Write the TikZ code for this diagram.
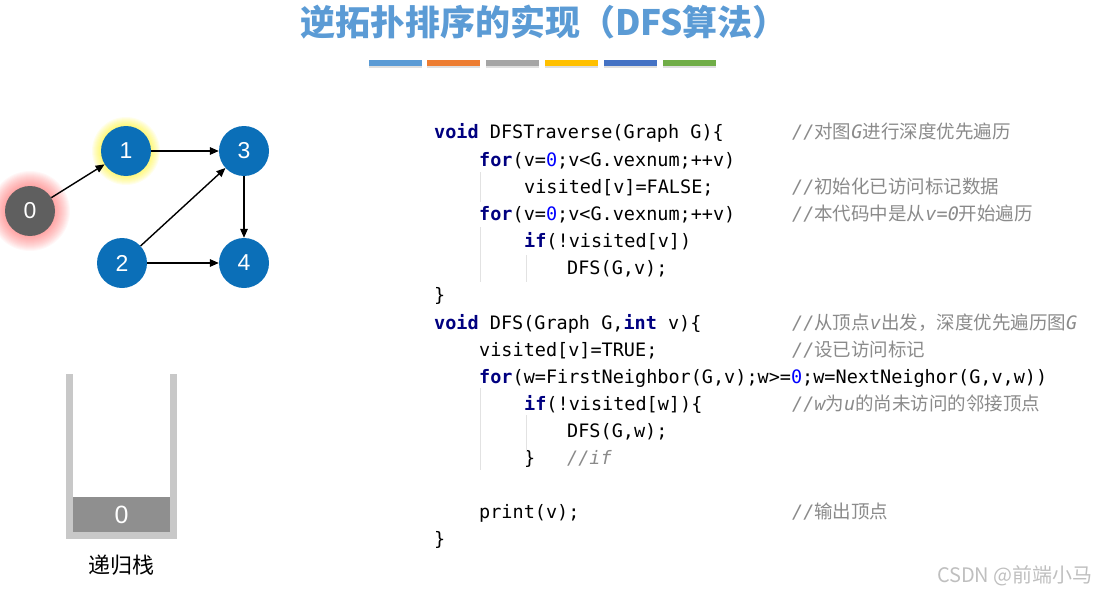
\documentclass[tikz,border=0pt]{standalone}
\usepackage{fontspec}
\setmainfont{Liberation Sans}
\newfontfamily\cjk{Noto Sans CJK SC}
\newfontfamily\codefont{DejaVu Sans Mono}
\usetikzlibrary{arrows.meta, positioning, backgrounds, shadows}
\usepackage{xcolor}
\definecolor{tblue}{HTML}{5B9BD5}
\definecolor{torange}{HTML}{ED7D31}
\definecolor{tgray}{HTML}{A5A5A5}
\definecolor{tyellow}{HTML}{FFC000}
\definecolor{tdblue}{HTML}{4472C4}
\definecolor{tgreen}{HTML}{70AD47}
\definecolor{nblue}{HTML}{0B6FB8}
\definecolor{ngray}{HTML}{5F5F5F}
\definecolor{kwc}{HTML}{000080}
\definecolor{numc}{HTML}{0000FF}
\definecolor{cgray}{HTML}{8A8A8A}
\definecolor{guidec}{HTML}{E2E2E2}
\definecolor{wallc}{HTML}{C8C8C8}
\definecolor{blockc}{HTML}{8F8F8F}
\newcommand\kw[1]{\textcolor{kwc}{\bfseries #1}}
\newcommand\nz{\textcolor{numc}{0}}
\newcommand\ci[1]{{\codefont\itshape #1}}

\begin{document}
\begin{tikzpicture}[x=1pt, y=-1pt,
  vtx/.style={circle, fill=nblue, minimum size=50pt, inner sep=0pt, text=white,
              font=\fontsize{23}{23}\selectfont},
  arc/.style={-{Triangle[length=9pt,width=7.5pt]}, line width=1.4pt},
  code/.style={anchor=base west, inner sep=0pt, font=\codefont\fontsize{18.5}{22}\selectfont},
  cmt/.style={anchor=base west, inner sep=0pt, text=cgray, font=\cjk\fontsize{18.5}{22}\selectfont},
  guide/.style={draw=guidec, line width=0.8pt},
  bar/.style={minimum width=53pt, minimum height=6pt, inner sep=0pt,
              drop shadow={opacity=0.25, shadow xshift=0pt, shadow yshift=-2pt}},
  wall/.style={fill=wallc},
]
\useasboundingbox (0,0) rectangle (1099,591);

% title and colour bar
\node[text=tblue, font=\cjk\bfseries\fontsize{35}{35}\selectfont] (title) at (544,22) {逆拓扑排序的实现（DFS算法）};
\foreach \c [count=\i] in {tblue,torange,tgray,tyellow,tdblue,tgreen}
  \node[bar, fill=\c] (bar\i) at ({395+(\i-1)*58.8}, 63) {};

% graph
\node[vtx, fill=ngray] (v0) at (30,211) {0};
\node[vtx] (v1) at (126,151) {1};
\node[vtx] (v3) at (244,151) {3};
\node[vtx] (v2) at (122,263) {2};
\node[vtx] (v4) at (244,263) {4};
\begin{scope}[on background layer]
  \foreach \r in {25,26,...,40} \fill[red!70, opacity=0.045] (v0) circle (\r pt);
  \foreach \r in {25,26,...,34} \fill[yellow, opacity=0.07] (v1) circle (\r pt);
\end{scope}
\draw[arc] (v0) -- (v1);
\draw[arc] (v1) -- (v3);
\draw[arc] (v2) -- (v3);
\draw[arc] (v3) -- (v4);
\draw[arc] (v2) -- (v4);

% recursion stack
\fill[wall] (66,374) rectangle (73,539);
\fill[wall] (170,374) rectangle (177,539);
\fill[wall] (66,532) rectangle (177,539);
\node[fill=blockc, minimum width=97pt, minimum height=35pt, inner sep=0pt, text=white,
      font=\fontsize{25}{25}\selectfont] (s0) at (121.5,514.5) {0};
\node[font=\cjk\fontsize{22}{22}\selectfont] (stk) at (121,565) {递归栈};

% code
\node[code] (l1)  at (434,139) {\kw{void} DFSTraverse(Graph G)\{};
\node[code] (l2)  at (479,166) {\kw{for}(v=\nz;v<G.vexnum;++v)};
\node[code] (l3)  at (524,193) {visited[v]=FALSE;};
\node[code] (l4)  at (479,220) {\kw{for}(v=\nz;v<G.vexnum;++v)};
\node[code] (l5)  at (524,247) {\kw{if}(!visited[v])};
\node[code] (l6)  at (567,274) {DFS(G,v);};
\node[code] (l7)  at (434,301) {\}};
\node[code] (l8)  at (434,329) {\kw{void} DFS(Graph G,\kw{int} v)\{};
\node[code] (l9)  at (479,356) {visited[v]=TRUE;};
\node[code] (l10) at (479,383) {\kw{for}(w=FirstNeighbor(G,v);w>=\nz;w=NextNeighor(G,v,w))};
\node[code] (l11) at (524,410) {\kw{if}(!visited[w])\{};
\node[code] (l12) at (567,437) {DFS(G,w);};
\node[code] (l13) at (524,464) {\}};
\node[code] (l14) at (479,518) {print(v);};
\node[code] (l15) at (434,545) {\}};

% comments
\node[cmt] (c1)  at (792,139) {\ci{//}对图\ci{G}进行深度优先遍历};
\node[cmt] (c3)  at (792,193) {\ci{//}初始化已访问标记数据};
\node[cmt] (c4)  at (792,220) {\ci{//}本代码中是从\ci{v=0}开始遍历};
\node[cmt] (c8)  at (792,329) {\ci{//}从顶点\ci{v}出发，深度优先遍历图\ci{G}};
\node[cmt] (c9)  at (792,356) {\ci{//}设已访问标记};
\node[cmt] (c11) at (792,410) {\ci{//}\ci{w}为\ci{u}的尚未访问的邻接顶点};
\node[cmt] (c13) at (567,464) {\ci{//if}};
\node[cmt] (c14) at (792,518) {\ci{//}输出顶点};

% indent guides
\draw[guide] (480,172) -- (480,202);
\draw[guide] (480,227) -- (480,282);
\draw[guide] (526,255) -- (526,282);
\draw[guide] (480,388) -- (480,470);
\draw[guide] (526,415) -- (526,452);

% watermark
\node[anchor=base east, inner sep=0pt, text=black!25, font=\cjk\fontsize{20}{20}\selectfont] (wm) at (1093,582) {CSDN @前端小马};
\end{tikzpicture}
\end{document}
